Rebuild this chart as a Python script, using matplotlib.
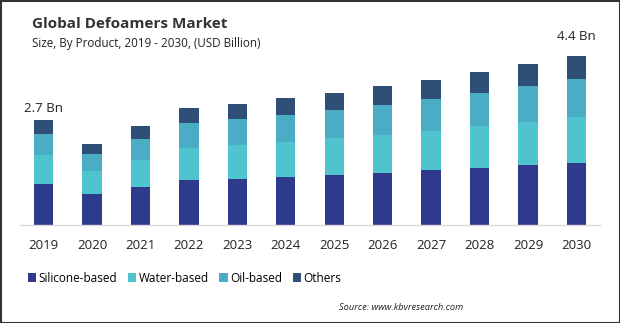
import matplotlib
matplotlib.use("Agg")
import matplotlib.pyplot as plt
from matplotlib.patches import Rectangle

years = ["2019", "2020", "2021", "2022", "2023", "2024", "2025", "2026", "2027", "2028", "2029", "2030"]
series_names = ["Silicone-based", "Water-based", "Oil-based", "Others"]
silicone = [1.06, 0.80, 0.98, 1.17, 1.19, 1.24, 1.30, 1.35, 1.42, 1.48, 1.55, 1.61]
water = [0.75, 0.60, 0.70, 0.83, 0.88, 0.91, 0.96, 0.98, 1.01, 1.09, 1.11, 1.19]
oil = [0.54, 0.44, 0.54, 0.65, 0.67, 0.70, 0.73, 0.78, 0.83, 0.85, 0.93, 0.98]
others = [0.36, 0.26, 0.34, 0.39, 0.39, 0.44, 0.44, 0.49, 0.49, 0.54, 0.57, 0.60]
colors = ["#2E3A8C", "#4FC4CF", "#4BACC6", "#2F4F77"]
annotations = {"2019": "2.7 Bn", "2030": "4.4 Bn"}

plt.rcParams['font.family'] = ['Open Sans', 'DejaVu Sans']

fig = plt.figure(figsize=(6.2, 3.23), dpi=100)
ax = fig.add_axes([20/620, (323-225)/323, 580/620, 185/323])

x = list(range(len(years)))
bottom = [0.0]*len(years)
handles = []
for name, vals, c in zip(series_names, [silicone, water, oil, others], colors):
    b = ax.bar(x, vals, width=0.40, bottom=bottom, color=c, label=name, linewidth=0)
    handles.append(b)
    bottom = [bo + v for bo, v in zip(bottom, vals)]

label_offsets = {"2019": 0.13, "2030": 0.33}
for i, y in enumerate(years):
    if y in annotations:
        ax.text(i, bottom[i] + label_offsets[y], annotations[y], ha='center', va='bottom', fontsize=9.5, color='#222222')

ax.set_xlim(-0.485, 11.485)
ax.set_ylim(0, 185/38.6)
ax.set_xticks(x)
ax.set_xticklabels(years, fontsize=9.5, color='#222222')
ax.tick_params(axis='x', length=0, pad=10)
ax.set_yticks([])
for s in ['top', 'right', 'left']:
    ax.spines[s].set_visible(False)
ax.spines['bottom'].set_color('#d9d9d9')
ax.spines['bottom'].set_linewidth(1.0)

fig.text(32/620, 1 - 24/323, "Global Defoamers Market", fontsize=11, fontweight='bold', color='#333333', va='center', ha='left')
fig.text(32/620, 1 - 43/323, "Size, By Product, 2019 - 2030, (USD Billion)", fontsize=8.4, color='#222222', va='center', ha='left')

fig.legend(handles=handles, labels=series_names, loc='center left', bbox_to_anchor=(28/620, 1 - 278/323),
           ncol=4, frameon=False, fontsize=8.5, handlelength=0.7, handleheight=0.7,
           handletextpad=0.2, columnspacing=0.9, borderaxespad=0, borderpad=0)

fig.text(463/620, 1 - 308/323, "Source: www.kbvresearch.com", fontsize=6.7, style='italic', color='#222222', ha='right', va='center')

fig.patches.append(Rectangle((0.5/620, 0.5/323), 619/620, 322/323, transform=fig.transFigure, fill=False,
                             edgecolor='#333333', linewidth=1.5))

fig.savefig("out.png", dpi=100)
